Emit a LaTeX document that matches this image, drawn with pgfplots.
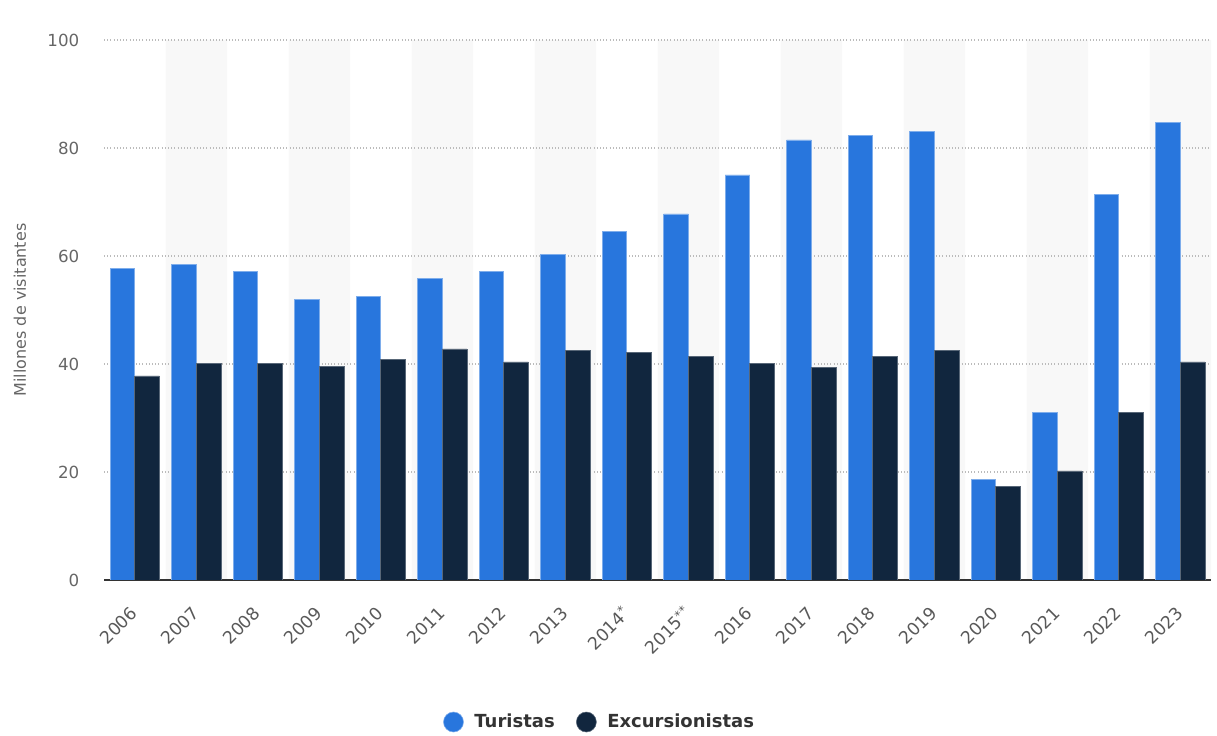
\documentclass[border=0pt]{standalone}
\usepackage{pgfplots}
\pgfplotsset{compat=1.18}
\usepackage{fontspec}
\setmainfont{DejaVu Sans}
\definecolor{tur}{HTML}{2876DD}
\definecolor{exc}{HTML}{11263E}
\definecolor{band}{HTML}{F8F8F8}
\definecolor{tickc}{HTML}{666666}
\definecolor{gridc}{HTML}{BBBBBB}
\begin{document}
\begin{tikzpicture}[x=1pt,y=1pt]
\begin{axis}[
  at={(78pt,115.5pt)}, anchor=south west, scale only axis,
  width=830.25pt, height=405pt,
  xmin=-0.5, xmax=17.5, ymin=0, ymax=100,
  set layers,
  /pgf/number format/assume math mode=true,
  axis lines*=left,
  y axis line style={draw=none},
  x axis line style={draw=black!80, line width=1.2pt},
  major tick length=0pt,
  ymajorgrids, grid style={dotted, gridc, line width=0.8pt},
  ytick={0,20,...,100},
  yticklabel style={font=\fontsize{12.5}{14}\selectfont, text=tickc, xshift=-15pt},
  xtick={0,...,17},
  xticklabels={2006,2007,2008,2009,2010,2011,2012,2013,2014\textsuperscript{*},2015\textsuperscript{**},2016,2017,2018,2019,2020,2021,2022,2023},
  xticklabel style={font=\fontsize{13}{15}\selectfont, text=black!65, yshift=-20pt, xshift=2pt, rotate=45, anchor=east},
  every axis y label/.style={at={(axis description cs:-0.0759,0.5)}, rotate=90, anchor=center, font=\fontsize{12}{14}\selectfont, text=tickc},
  ylabel={Millones de visitantes},
  legend columns=2,
  legend style={at={(axis description cs:0.448,-0.263)}, anchor=center, draw=none, fill=none,
    font=\bfseries\fontsize{13.5}{16}\selectfont, text=black!80,
    /tikz/every odd column/.append style={column sep=6pt},
    /tikz/every even column/.append style={column sep=14pt}},
  legend image code/.code={\fill[#1] (0pt,0pt) circle (7.5pt);},
]
\addplot[ybar interval, fill=band, draw=none, on layer=axis background, forget plot] coordinates {
(0.5,100) (1.5,0) (2.5,100) (3.5,0) (4.5,100) (5.5,0) (6.5,100) (7.5,0) (8.5,100) (9.5,0)
(10.5,100) (11.5,0) (12.5,100) (13.5,0) (14.5,100) (15.5,0) (16.5,100) (17.5,0)};
\addplot[ybar, bar width=0.4, bar shift=-0.2, fill=tur, draw=tur!60!white, line width=0.4pt] coordinates {
(0,57.7) (1,58.4) (2,57.1) (3,51.9) (4,52.5) (5,55.8) (6,57.1) (7,60.3) (8,64.6)
(9,67.8) (10,75.0) (11,81.5) (12,82.4) (13,83.1) (14,18.6) (15,31.0) (16,71.4) (17,84.8)};
\addlegendentry{Turistas}
\addplot[ybar, bar width=0.4, bar shift=0.2, fill=exc, draw=exc!70!white, line width=0.4pt] coordinates {
(0,37.8) (1,40.1) (2,40.1) (3,39.5) (4,40.8) (5,42.8) (6,40.4) (7,42.5) (8,42.1)
(9,41.4) (10,40.1) (11,39.4) (12,41.4) (13,42.5) (14,17.3) (15,20.2) (16,31.0) (17,40.4)};
\addlegendentry{Excursionistas}
\end{axis}
\path (0,0) rectangle (912.75,550.5);
\end{tikzpicture}
\end{document}
